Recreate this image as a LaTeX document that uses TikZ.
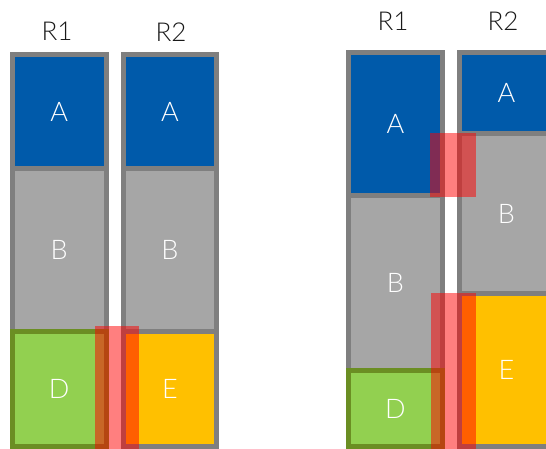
\documentclass[tikz,border=0pt]{standalone}
\usepackage{fontspec}
\setmainfont{Lato Light}
\usetikzlibrary{patterns}
\definecolor{ablue}{RGB}{0,90,170}
\definecolor{bgray}{RGB}{166,166,166}
\definecolor{edgegray}{RGB}{127,127,127}
\definecolor{dgreen}{RGB}{146,208,80}
\definecolor{dedge}{RGB}{107,142,35}
\definecolor{eorange}{RGB}{255,192,0}
\tikzset{
  block/.style={draw=edgegray, line width=5pt, inner sep=0pt, text=white,
    font=\fontsize{27}{30}\selectfont, minimum width=93.5pt},
  ablock/.style={block, fill=ablue},
  bblock/.style={block, fill=bgray},
  dblock/.style={block, fill=dgreen, draw=dedge},
  eblock/.style={block, fill=eorange},
  head/.style={inner sep=0pt, font=\fontsize{26}{30}\selectfont, text=black!90},
  overlap/.style={fill=red, fill opacity=0.5, draw=none},
}
\begin{document}
\begin{tikzpicture}[x=1pt,y=-1pt]
\useasboundingbox (0,0) rectangle (546,449);
\clip (0,0) rectangle (546,449);
% left panel
\node[head] (l1) at (57,31) {R1};
\node[head] (l2) at (171,32) {R2};
\node[ablock, minimum height=114.5pt] (la1) at (59.25,111.75) {A};
\node[bblock, minimum height=162pt] (lb1) at (59.25,250) {B};
\node[dblock, minimum height=115.5pt] (ld1) at (59.25,388.75) {D};
\node[ablock, minimum height=114.5pt] (la2) at (170,111.75) {A};
\node[bblock, minimum height=162pt] (lb2) at (170,250) {B};
\node[eblock, minimum height=115.5pt] (le2) at (170,388.75) {E};
\path[overlap] (95,326) rectangle (139,449);
% right panel
\node[head] (r1) at (393,21) {R1};
\node[head] (r2) at (503,21) {R2};
\node[ablock, minimum width=94pt, minimum height=143.5pt] (ra1) at (395.5,124.25) {A};
\node[bblock, minimum width=94pt, minimum height=174.5pt] (rb1) at (395.5,283.25) {B};
\node[dblock, minimum width=94pt, minimum height=76pt] (rd1) at (395.5,408.5) {D};
\node[ablock, minimum width=94pt, minimum height=81.5pt] (ra2) at (506.5,93.25) {A};
\node[bblock, minimum width=94pt, minimum height=159pt] (rb2) at (506.5,213.5) {B};
\node[eblock, minimum width=94pt, minimum height=153.5pt] (re2) at (506.5,369.75) {E};
\path[overlap] (430,133) rectangle (476,197);
\path[overlap] (431,293) rectangle (476,449);
\end{tikzpicture}
\end{document}
